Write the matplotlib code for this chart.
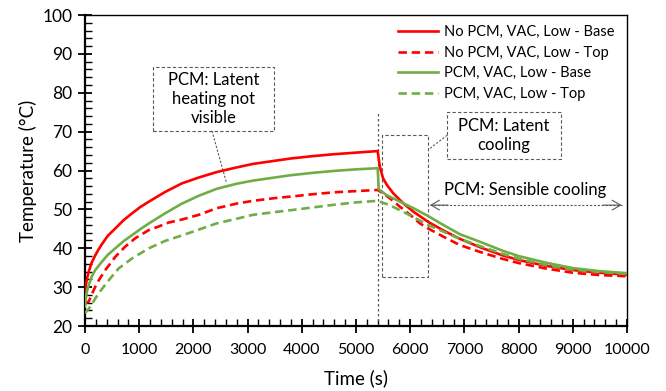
import matplotlib
matplotlib.use('Agg')
import matplotlib.pyplot as plt
from matplotlib.patches import Rectangle
from matplotlib.ticker import MultipleLocator

plt.rcParams['font.family'] = ['Lato', 'DejaVu Sans']

# No PCM, VAC, Low - Base
t_nopcm_base = [0, 10, 20, 40, 70, 120, 190, 250, 310, 420, 560, 710, 870, 1020, 1180, 1480, 1790,
                2100, 2430, 2800, 3100, 3500, 3800, 4200, 4600, 5000, 5400, 5440, 5500, 5570,
                5690, 5870, 6060, 6330, 6610, 6920, 7300, 7700, 8000, 8500, 9000, 9500, 10000]
T_nopcm_base = [28.0, 29.8, 30.8, 32.4, 34.0, 36.2, 38.2, 39.7, 41.0, 43.2, 45.1, 47.2, 49.0, 50.6, 52.0, 54.5, 56.7,
                58.2, 59.6, 60.8, 61.7, 62.5, 63.1, 63.7, 64.2, 64.6, 65.0, 61.0, 58.0, 56.3,
                54.1, 51.6, 49.4, 46.8, 44.6, 42.4, 40.2, 38.2, 37.0, 35.5, 34.4, 33.7, 33.2]

# No PCM, VAC, Low - Top
t_nopcm_top = [0, 70, 140, 220, 375, 560, 740, 930, 1180, 1360, 1540, 1790, 2100, 2430, 2800, 3100,
               3500, 3800, 4200, 4600, 5000, 5400, 5500, 5630, 5810, 6000, 6180, 6330, 6610,
               6920, 7300, 7700, 8000, 8500, 9000, 9500, 10000]
T_nopcm_top = [25.8, 26.3, 28.6, 31.0, 34.4, 37.8, 40.4, 42.6, 44.7, 45.6, 46.6, 47.4, 48.6, 50.3, 51.5, 52.2,
               52.9, 53.3, 53.9, 54.4, 54.7, 55.0, 54.1, 52.8, 50.7, 48.6, 46.4, 45.1, 43.0,
               40.8, 39.0, 37.3, 36.2, 34.8, 33.7, 33.1, 32.8]

# PCM, VAC, Low - Base
t_pcm_base = [0, 10, 20, 40, 70, 120, 190, 310, 420, 560, 710, 870, 1020, 1180, 1480, 1790,
              2100, 2430, 2800, 3100, 3500, 3800, 4200, 4600, 5000, 5400, 5420, 5560, 5810,
              6060, 6330, 6610, 6920, 7300, 7700, 8000, 8500, 9000, 9500, 10000]
T_pcm_base = [25.0, 26.4, 27.5, 29.1, 30.5, 32.6, 34.4, 36.5, 38.3, 40.0, 41.8, 43.4, 44.9, 46.4, 49.0, 51.5,
              53.5, 55.3, 56.6, 57.4, 58.2, 58.8, 59.4, 59.9, 60.3, 60.6, 55.2, 53.7, 52.0,
              50.3, 48.3, 46.0, 43.6, 41.6, 39.4, 38.0, 36.3, 34.9, 34.1, 33.6]

# PCM, VAC, Low - Top
t_pcm_top = [0, 100, 250, 440, 620, 870, 1180, 1480, 1790, 2100, 2430, 2800, 3100, 3500,
             3800, 4200, 4600, 5000, 5400, 5620, 5870, 6060, 6330, 6610, 6920, 7300, 7700,
             8000, 8500, 9000, 9500, 10000]
T_pcm_top = [23.3, 25.0, 28.4, 31.8, 34.8, 37.4, 40.0, 41.9, 43.3, 44.8, 46.4, 47.6, 48.6, 49.3,
             49.8, 50.5, 51.2, 51.8, 52.2, 51.1, 49.4, 48.0, 46.0, 44.3, 42.4, 40.5, 38.6,
             37.3, 35.7, 34.5, 33.9, 33.4]

labels = ['No PCM, VAC, Low - Base', 'No PCM, VAC, Low - Top',
          'PCM, VAC, Low - Base', 'PCM, VAC, Low - Top']

red = '#FF0000'
green = '#70AD47'
box_col = '#595959'
dash = (3.2, 1.8)

fig = plt.figure(figsize=(6.66, 3.91), dpi=100)
ax = fig.add_axes([0.1276, 0.1662, 0.8138, 0.7954])

ax.plot(t_nopcm_base, T_nopcm_base, color=red, lw=1.9, label=labels[0], zorder=4)
ax.plot(t_nopcm_top, T_nopcm_top, color=red, lw=1.9, dashes=dash, label=labels[1], zorder=4)
ax.plot(t_pcm_base, T_pcm_base, color=green, lw=1.9, label=labels[2], zorder=4)
ax.plot(t_pcm_top, T_pcm_top, color=green, lw=1.9, dashes=dash, label=labels[3], zorder=4)

ax.set_xlim(0, 10000)
ax.set_ylim(20, 100)
ax.xaxis.set_major_locator(MultipleLocator(1000))
ax.xaxis.set_minor_locator(MultipleLocator(200))
ax.yaxis.set_major_locator(MultipleLocator(10))
ax.yaxis.set_minor_locator(MultipleLocator(2))
ax.tick_params(which='major', direction='inout', length=10, width=1.3)
ax.tick_params(which='minor', direction='in', length=5, width=1.0)
ax.tick_params(axis='x', which='major', labelsize=11.5, pad=7)
ax.tick_params(axis='y', which='major', labelsize=12.5, pad=4)
for side in ['left', 'bottom']:
    ax.spines[side].set_linewidth(1.6)
for side in ['top', 'right']:
    ax.spines[side].set_linewidth(1.0)

ax.set_xlabel('Time (s)', fontsize=13.5, labelpad=9)
ax.set_ylabel('Temperature (°C)', fontsize=13.5, labelpad=4)

leg = ax.legend(loc='upper right', frameon=False, fontsize=10.5, handlelength=2.75,
                handletextpad=0.35, labelspacing=0.45, borderaxespad=0.3,
                bbox_to_anchor=(0.995, 1.0))

# heating / cooling switch
ax.plot([5400, 5400], [20, 74.8], color=box_col, lw=0.9, dashes=(2, 2), zorder=2)

def dashed_box(x0, x1, y0, y1):
    ax.add_patch(Rectangle((x0, y0), x1 - x0, y1 - y0, fill=False, edgecolor=box_col,
                           lw=0.8, linestyle=(0, (3, 2)), zorder=3))

# latent heating note
dashed_box(1255, 3487, 70.2, 86.6)
ax.text(2371, 78.4, 'PCM: Latent\nheating not\nvisible', ha='center', va='center',
        fontsize=12, linespacing=1.25)
ax.plot([2343, 2614], [70.2, 56.7], color=box_col, lw=0.8, dashes=(2, 1.5), zorder=3)

# latent cooling region and note
dashed_box(5474, 6330, 32.6, 69.1)
dashed_box(6684, 8782, 63.0, 75.1)
ax.text(7733, 69.05, 'PCM: Latent\ncooling', ha='center', va='center',
        fontsize=12, linespacing=1.25)
ax.plot([6684, 6330], [69.1, 65.3], color=box_col, lw=0.8, dashes=(2, 1.5), zorder=3)

# sensible cooling span
ax.plot([6365, 9902], [51.1, 51.1], color=box_col, lw=0.8, dashes=(2, 1.5), zorder=3)
for x_end, x_start in [(6365, 6700), (9902, 9560)]:
    ax.annotate('', xy=(x_end, 51.1), xytext=(x_start, 51.1),
                arrowprops=dict(arrowstyle='->,head_length=0.6,head_width=0.35',
                                color=box_col, lw=0.8, shrinkA=0, shrinkB=0))
ax.text(8118, 55.0, 'PCM: Sensible cooling', ha='center', va='center', fontsize=12)

fig.savefig('out.png', dpi=100)
